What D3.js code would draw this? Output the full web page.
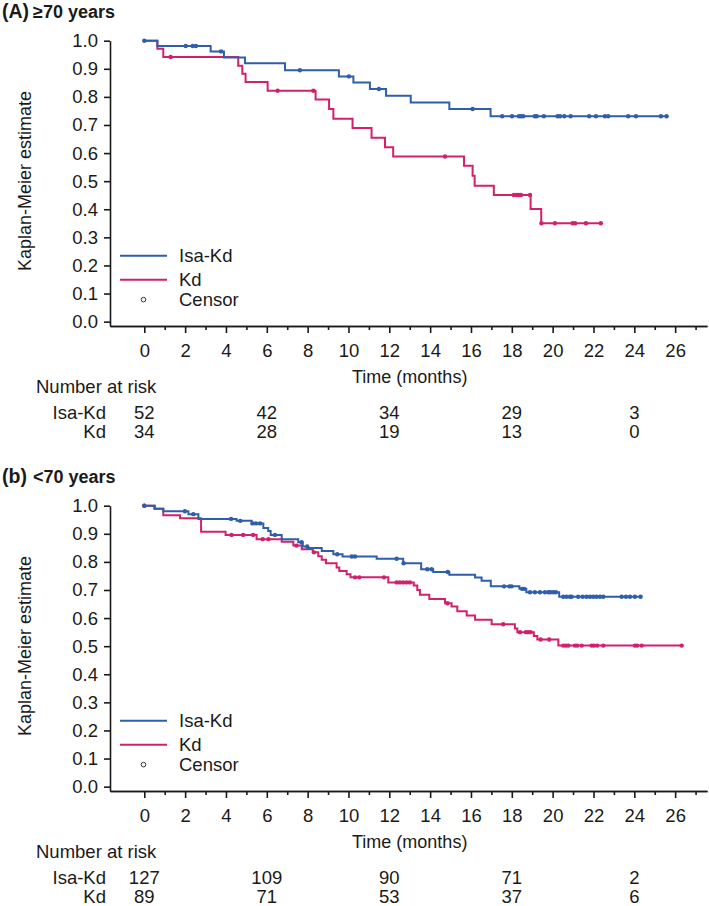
<!DOCTYPE html>
<html><head><meta charset="utf-8">
<script src="https://cdn.jsdelivr.net/npm/d3@7"></script>
<style>
body{margin:0;background:#fff;}
svg{display:block;font-family:"Liberation Sans",Arial,Helvetica,sans-serif;}
</style></head><body>
<svg id="c" width="709" height="906"></svg>
<script>
// ---------- data ----------
const timeTicks = [0,2,4,6,8,10,12,14,16,18,20,22,24,26];
const minorTicks = [1,3,5,7,9,11,13,15,17,19,21,23,25,27];
const yTicks = [0,0.1,0.2,0.3,0.4,0.5,0.6,0.7,0.8,0.9,1.0];
const seriesNames = ["Isa-Kd","Kd"];
const riskTimes = [0,6,12,18,24];

// Panel A (>=70 years)
const aIsaT = [0.64,3.25,3.90,4.93,6.89,9.53,10.24,11.05,11.84,13.05,14.94,16.96];
const aIsaS = [0.981,0.962,0.940,0.920,0.895,0.873,0.851,0.828,0.804,0.780,0.757,0.731];
const aIsaC = [0,2.03,2.37,2.53,3.76,7.62,10.02,11.49,16.08,17.53,18.01,18.35,18.45,18.56,19.13,19.22,19.57,20.24,20.36,20.57,20.88,21.79,22.12,22.56,22.72,23.70,24.08,25.30,25.58];
const aIsaEnd = 25.58;
const aKdT = [0.64,0.93,4.60,4.80,4.96,6.04,8.39,9.05,9.26,10.20,11.13,11.79,12.19,15.66,16.08,16.18,17.12,18.92,19.44];
const aKdS = [0.971,0.942,0.911,0.882,0.853,0.822,0.791,0.757,0.722,0.689,0.655,0.621,0.588,0.555,0.519,0.484,0.451,0.401,0.350];
const aKdC = [1.29,6.53,8.28,14.73,18.10,18.24,18.35,18.45,18.89,19.45,20.11,20.98,21.10,21.63,22.36];
const aKdEnd = 22.36;
const aIsaRisk = [52,42,34,29,3];
const aKdRisk = [34,28,19,13,0];

// Panel B (<70 years)
const bIsaT = [0.52,0.93,2.16,2.65,4.52,5.26,5.83,6.07,6.19,6.73,7.54,7.76,8.00,8.69,9.26,9.71,11.38,12.68,13.56,14.15,14.94,16.20,16.52,16.97,18.37,18.71,20.32];
const bIsaS = [0.989,0.980,0.970,0.953,0.946,0.937,0.921,0.910,0.896,0.881,0.870,0.855,0.849,0.839,0.827,0.819,0.811,0.795,0.774,0.764,0.754,0.744,0.733,0.713,0.704,0.692,0.676];
const bIsaC = [0,1.99,2.40,4.25,4.70,5.30,5.47,5.67,6.40,7.70,7.98,9.45,10.16,10.32,12.36,12.70,13.86,14.07,14.86,17.62,17.88,17.99,18.50,18.60,18.89,19.13,19.38,19.62,19.79,19.90,20.03,20.16,20.52,20.68,20.85,20.93,21.25,21.47,21.66,21.83,21.99,22.15,22.32,22.48,23.38,23.59,23.79,24.03,24.31];
const bIsaEnd = 24.31;
const bKdT = [0.49,0.93,1.75,2.78,3.98,5.50,6.73,7.30,7.71,8.25,8.52,8.69,8.90,9.42,9.55,9.91,10.10,11.95,13.20,13.37,13.50,13.96,14.73,15.05,15.33,15.79,16.20,17.01,18.15,18.27,19.08,19.25,20.28];
const bKdS = [0.989,0.966,0.955,0.907,0.896,0.881,0.872,0.858,0.845,0.834,0.820,0.808,0.795,0.780,0.768,0.756,0.745,0.727,0.716,0.700,0.683,0.668,0.653,0.641,0.624,0.609,0.594,0.578,0.563,0.550,0.536,0.524,0.502];
const bKdC = [0,4.27,4.84,5.33,5.80,6.08,7.45,8.31,10.32,10.53,11.74,12.36,12.52,12.68,12.85,13.01,14.85,17.58,18.40,18.69,18.80,18.92,19.41,19.83,20.52,20.65,20.77,21.09,21.20,21.42,21.91,22.02,22.18,22.48,24.03,24.14,24.36,26.32];
const bKdEnd = 26.32;
const bIsaRisk = [127,109,90,71,2];
const bKdRisk = [89,71,53,37,6];

// ---------- drawing ----------
const colIsa = "#2f5ead", colKd = "#d3206d", ink = "#1a1a1a";
const FS = 18.5;
const svg = d3.select("#c");

function survAt(T,S,t){ let s=1; for(let i=0;i<T.length;i++){ if(T[i]<=t+1e-9) s=S[i]; } return s; }

const panels = [
  {tag:"(A)", title:"\u226570 years", dy:0,
   series:[{T:aKdT,S:aKdS,C:aKdC,end:aKdEnd,col:colKd},{T:aIsaT,S:aIsaS,C:aIsaC,end:aIsaEnd,col:colIsa}],
   risk:[aIsaRisk,aKdRisk]},
  {tag:"(b)", title:"<70 years", dy:465,
   series:[{T:bKdT,S:bKdS,C:bKdC,end:bKdEnd,col:colKd},{T:bIsaT,S:bIsaS,C:bIsaC,end:bIsaEnd,col:colIsa}],
   risk:[bIsaRisk,bKdRisk]}
];

panels.forEach(p=>{
  const dy = p.dy;
  const x = d3.scaleLinear().domain([-1.68,27.56]).range([110,707]);
  const y = d3.scaleLinear().domain([-0.0155,1]).range([326+dy,40.7+dy]);
  const g = svg.append("g");

  g.append("text").attr("x",2).attr("y",18+dy).attr("font-weight","bold").attr("font-size",19.5).attr("fill",ink).text(p.tag);
  g.append("text").attr("x",33).attr("y",18+dy).attr("font-weight","bold").attr("font-size",18).attr("fill",ink).text(p.title);

  const axY = y(-0.0155);
  const xa = g.append("g").attr("transform",`translate(0,${axY})`)
    .call(d3.axisBottom(x).tickValues(timeTicks).tickSize(7).tickSizeOuter(0).tickPadding(10.5));
  const xm = g.append("g").attr("transform",`translate(0,${axY})`)
    .call(d3.axisBottom(x).tickValues(minorTicks).tickSize(4).tickSizeOuter(0).tickFormat(""));
  const ya = g.append("g").attr("transform","translate(110,0)")
    .call(d3.axisLeft(y).tickValues(yTicks).tickSize(6).tickSizeOuter(0).tickPadding(6).tickFormat(d3.format(".1f")));
  [xa,xm,ya].forEach(a=>{
    a.attr("font-size",null).attr("font-family",null);
    a.selectAll("path,line").attr("stroke",ink).attr("stroke-width",1.6);
    a.selectAll("text").attr("font-size",FS).attr("fill",ink);
  });

  // axis labels
  g.append("text").attr("transform",`translate(31,${y(0.18)}) rotate(-90)`)
    .attr("font-size",18).attr("fill",ink).text("Kaplan-Meier estimate");
  g.append("text").attr("x",x(13)).attr("y",383+dy).attr("text-anchor","middle")
    .attr("font-size",18).attr("fill",ink).text("Time (months)");

  // curves
  const line = d3.line().x(d=>x(d[0])).y(d=>y(d[1])).curve(d3.curveStepAfter);
  p.series.forEach(s=>{
    const pts = [[0,1]];
    s.T.forEach((t,i)=>pts.push([t,s.S[i]]));
    pts.push([s.end,s.S[s.S.length-1]]);
    g.append("path").datum(pts).attr("d",line).attr("fill","none")
      .attr("stroke",s.col).attr("stroke-width",2);
    g.selectAll(null).data(s.C).enter().append("circle")
      .attr("cx",d=>x(d)).attr("cy",d=>y(survAt(s.T,s.S,d))).attr("r",2.2).attr("fill",s.col);
  });

  // legend
  const lg = g.append("g");
  [[colIsa,seriesNames[0],-66],[colKd,seriesNames[1],-42]].forEach(([c,n,o])=>{
    lg.append("line").attr("x1",120).attr("x2",167).attr("y1",y(0)+o).attr("y2",y(0)+o)
      .attr("stroke",c).attr("stroke-width",2);
    lg.append("text").attr("x",179).attr("y",y(0)+o+6).attr("font-size",FS).attr("fill",ink).text(n);
  });
  lg.append("circle").attr("cx",143.5).attr("cy",y(0)-22).attr("r",2.3).attr("fill","none")
    .attr("stroke","#333").attr("stroke-width",1);
  lg.append("text").attr("x",179).attr("y",y(0)-22+6).attr("font-size",FS).attr("fill",ink).text("Censor");

  // number at risk
  g.append("text").attr("x",36).attr("y",393+dy).attr("font-size",FS).attr("fill",ink).text("Number at risk");
  seriesNames.forEach((n,k)=>{
    const yy = 419+dy+19*k;
    g.append("text").attr("x",106).attr("y",yy).attr("text-anchor","end").attr("font-size",FS).attr("fill",ink).text(n);
    g.selectAll(null).data(p.risk[k]).enter().append("text")
      .attr("x",(d,i)=>x(riskTimes[i])).attr("y",yy).attr("text-anchor","middle")
      .attr("font-size",FS).attr("fill",ink).text(d=>d);
  });
});
</script>
</body></html>
